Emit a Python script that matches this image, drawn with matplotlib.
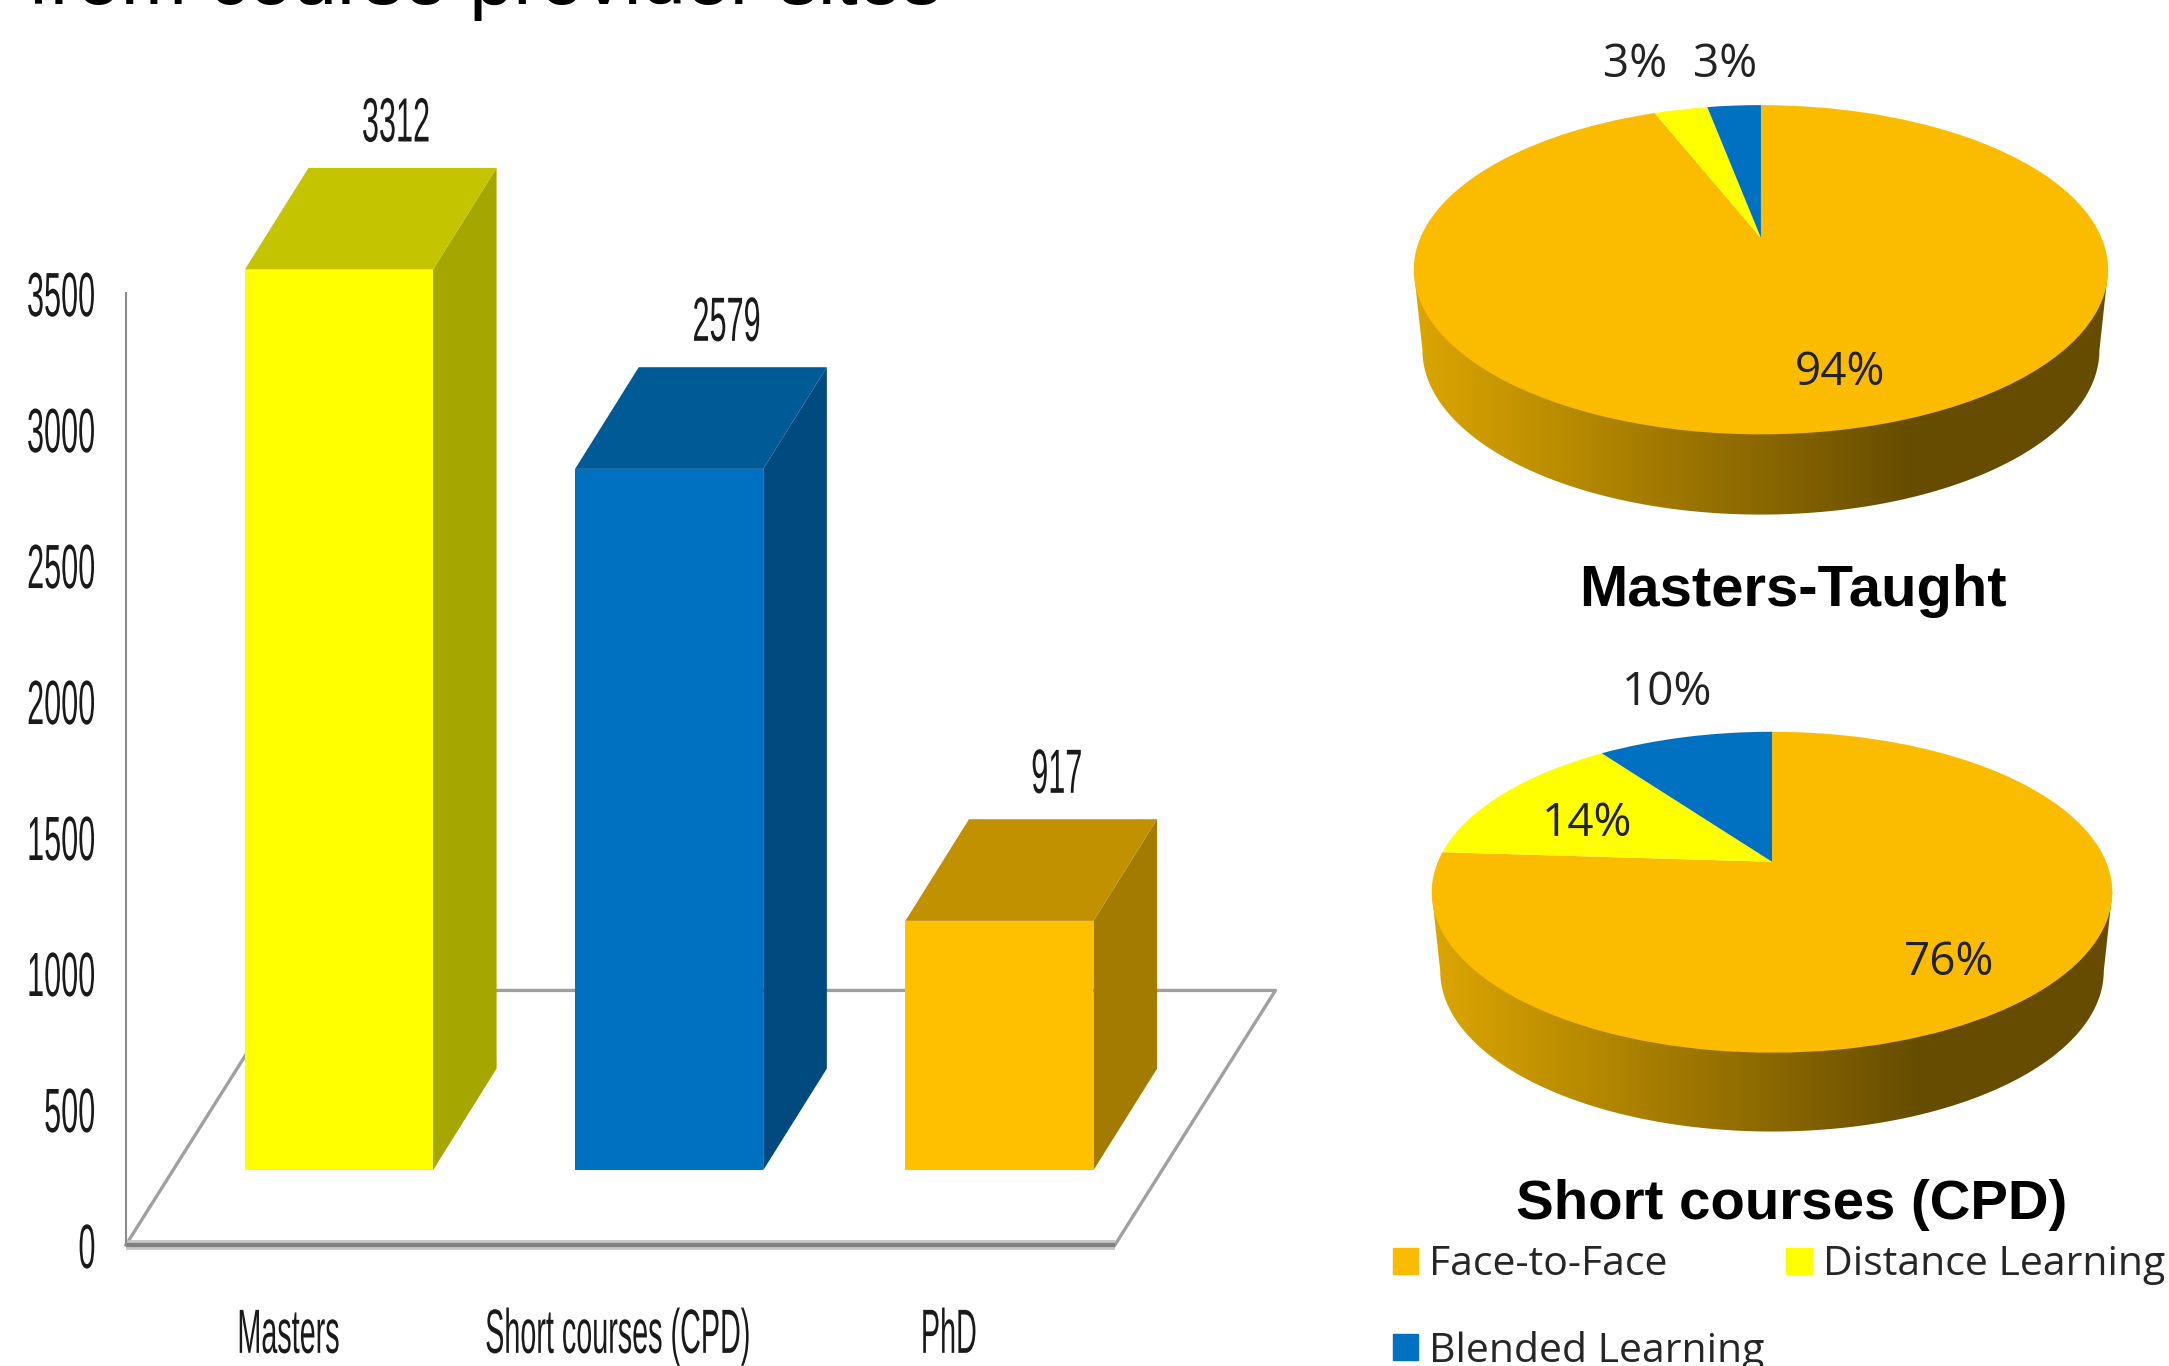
import numpy as np
import matplotlib
matplotlib.use('Agg')
import matplotlib.pyplot as plt
from matplotlib.colors import LinearSegmentedColormap
from matplotlib.patches import Patch, Polygon
from matplotlib.patheffects import AbstractPathEffect
from matplotlib.transforms import Affine2D, Transform

# bar chart data
levels = ['Masters', 'Short courses (CPD)', 'PhD']
course_counts = [3312, 2579, 917]
y_ticks = [0, 500, 1000, 1500, 2000, 2500, 3000, 3500]
bar_front = ['#FFFF00', '#0070C0', '#FFC000']
bar_side = ['#A6A600', '#004A80', '#A37B00']
bar_top = ['#C4C400', '#005A96', '#C29100']

# pie data
modes = ['Face-to-Face', 'Distance Learning', 'Blended Learning']
masters_share = [94, 3, 3]
short_share = [76, 14, 10]
mode_colors = ['#FBBC00', '#FFFF00', '#0070C0']

# the reference was measured at 1568 wide, S takes that to real pixels
W, H = 1568.0, 987.5
S = 2169.0 / 1568.0
plt.rcParams['font.family'] = ['Liberation Sans', 'DejaVu Sans']
fig = plt.figure(figsize=(21.69, 13.66), dpi=100)


def box(left, top, right, bottom):
    return [left / W, 1 - bottom / H, (right - left) / W, (bottom - top) / H]


class Squeeze(AbstractPathEffect):
    # narrows the glyphs of a text, the source image is squashed sideways
    def __init__(self, sx, anchor='center'):
        super().__init__()
        self.sx = sx
        self.anchor = anchor

    def draw_path(self, renderer, gc, tpath, affine, rgbFace=None):
        ext = tpath.get_extents(affine)
        x0 = {'left': ext.x0, 'right': ext.x1, 'center': (ext.x0 + ext.x1) / 2}[self.anchor]
        squash = affine + Affine2D().translate(-x0, 0).scale(self.sx, 1).translate(x0, 0)
        renderer.draw_path(gc, tpath, squash, rgbFace)


class DiscView(Transform):
    # perspective view of the pie disc, back of the disc is further away
    input_dims = 2
    output_dims = 2

    def __init__(self, a, b, k):
        super().__init__()
        self.a, self.b, self.k = a, b, k

    def transform_non_affine(self, values):
        w = 1 + self.k * values[:, 1]
        return np.column_stack([self.a * values[:, 0] / w, self.b * values[:, 1] / w])


# ---- 3d bars ----
unit_x = 238.75
unit_y = 0.1966
ax = fig.add_axes(box(91, 70, 930, 900))
ax.set_xlim((91 - 245) / unit_x, (930 - 245) / unit_x)
ax.set_ylim(0, 830 / unit_y)
ax.patch.set_visible(False)
for side in ['top', 'right', 'bottom']:
    ax.spines[side].set_visible(False)
ax.spines['left'].set_bounds(0, 3500)
ax.spines['left'].set_color('#8C8C8C')
ax.spines['left'].set_linewidth(1.5)

base = 54 / unit_y
depth_x = 46 / unit_x
depth_y = 73.5 / unit_y
bar_w = 136 / unit_x
floor_dx = 116 / unit_x
floor_dy = 184 / unit_y
x_left, x_front = ax.get_xlim()[0], (806 - 245) / unit_x

ax.plot([x_left, x_left + floor_dx, x_front + floor_dx, x_front],
        [0, floor_dy, floor_dy, 0], color='#A0A0A0', lw=2.4, zorder=1, clip_on=False)
ax.plot([x_left, x_front], [0, 0], color='#C4C4C4', lw=7, zorder=1, clip_on=False, solid_capstyle='butt')
ax.plot([x_left, x_front], [0, 0], color='#808080', lw=3, zorder=1.1, clip_on=False, solid_capstyle='butt')

pos = np.arange(len(levels))
ax.bar(pos, course_counts, bar_w, bottom=base, color=bar_front, zorder=3)
for i, val in enumerate(course_counts):
    r = pos[i] + bar_w / 2
    l = pos[i] - bar_w / 2
    t = base + val
    ax.fill([r, r + depth_x, r + depth_x, r], [base, base + depth_y, t + depth_y, t],
            color=bar_side[i], lw=0, zorder=2)
    ax.fill([l, l + depth_x, r + depth_x, r], [t, t + depth_y, t + depth_y, t],
            color=bar_top[i], lw=0, zorder=2)
    ax.annotate(str(val), (pos[i], t), xytext=(41.5 * S, 104.5 * S), textcoords='offset pixels',
                ha='center', va='center', fontsize=45, color='#1A1A1A',
                path_effects=[Squeeze(0.49)])

ax.set_yticks(y_ticks)
ax.set_yticklabels([str(v) for v in y_ticks], fontsize=45, color='#1A1A1A')
ax.tick_params(axis='y', length=0, pad=21 * S * 0.72)
for lab in ax.get_yticklabels():
    lab.set_path_effects([Squeeze(0.49, 'right')])
ax.set_xticks(pos - 0.155)
ax.set_xticklabels(levels, fontsize=45, color='#1A1A1A', va='baseline')
ax.tick_params(axis='x', length=0, pad=78 * S * 0.72)
for lab in ax.get_xticklabels():
    lab.set_path_effects([Squeeze(0.46)])


# ---- pies ----
rim_cmap = LinearSegmentedColormap.from_list('rim', [(0, '#DCA600'), (0.72, '#664C00'), (1, '#664C00')])


def draw_pie(shares, cx, cy, a, top_gap, front_gap, depth):
    k = (front_gap - top_gap) / (front_gap + top_gap)
    b = top_gap * (1 + k)
    a = a * np.sqrt(1 - k * k)
    view = DiscView(a, b, k)
    left, right = cx - a * 1.1, cx + a * 1.1
    top, bottom = cy - top_gap - 5, cy + front_gap + depth + 5
    pax = fig.add_axes(box(left, top, right, bottom))
    wedges, _ = pax.pie(shares, colors=mode_colors, startangle=90, counterclock=False,
                        wedgeprops={'linewidth': 0})
    pax.set_aspect('auto')
    pax.set_xlim(left - cx, right - cx)
    pax.set_ylim(cy - bottom, cy - top)
    for w in wedges:
        w.set_transform(view + pax.transData)
        w.set_clip_on(False)
        w.set_zorder(2)

    # side of the cake, lower half of the same disc moved down
    ang = np.radians(np.linspace(180 + np.degrees(np.arcsin(k)), 360 - np.degrees(np.arcsin(k)), 120))
    ring = view.transform_non_affine(np.column_stack([np.cos(ang), np.sin(ang)]))
    low = ring * [0.975, 1] - [0, depth]
    rim = Polygon(np.vstack([ring[:1], low, ring[-1:]]), closed=True, transform=pax.transData)
    im = pax.imshow(np.linspace(0, 1, 256).reshape(1, -1), cmap=rim_cmap,
                    extent=(ring[:, 0].min(), ring[:, 0].max(), cy - bottom, 0),
                    aspect='auto', zorder=1)
    im.set_clip_path(rim)
    pax.set_xlim(left - cx, right - cx)
    pax.set_ylim(cy - bottom, cy - top)
    return pax


draw_pie(masters_share, 1273, 172, 251, 96, 142, 58)
draw_pie(short_share, 1281, 623, 246, 94, 138, 57)


def label(x, y, txt, size=33, **kw):
    return fig.text(x / W, 1 - y / H, txt, ha='center', va='center', fontsize=size, **kw)


pct_font = ['Open Sans', 'DejaVu Sans']
label(1182, 47, '%d%%' % masters_share[1], family=pct_font, color='#222222')
label(1247, 47, '%d%%' % masters_share[2], family=pct_font, color='#222222')
label(1330, 270, '%d%%' % masters_share[0], family=pct_font, color='#222222')
label(1205, 501, '%d%%' % short_share[2], family=pct_font, color='#222222')
label(1147, 596, '%d%%' % short_share[1], family=pct_font, color='#222222')
label(1409, 696, '%d%%' % short_share[0], family=pct_font, color='#222222')
label(1296, 427, 'Masters-Taught', size=41.8, weight='bold', color='black')
label(1295, 871, 'Short courses (CPD)', size=40.6, weight='bold', color='black')

# legend, asked for column by column so Blended sits under Face-to-Face
handles = [Patch(color=mode_colors[i], label=modes[i]) for i in [0, 2, 1]]
fig.legend(handles=handles, ncol=2, frameon=False, loc='upper left',
           bbox_to_anchor=(1007 / W, 1 - 900 / H), prop={'family': pct_font, 'size': 29.5},
           labelcolor='#262626', handlelength=0.62, handleheight=0.62, handletextpad=0.27,
           labelspacing=1.1, columnspacing=0.52, borderpad=0, borderaxespad=0)

# what is left of the slide heading, cut off by the crop
fig.text(20 / W, 1 - 3 / H, 'from course provider sites', fontsize=57.2, color='black',
         ha='left', va='baseline')

fig.savefig('out.png', dpi=100)
